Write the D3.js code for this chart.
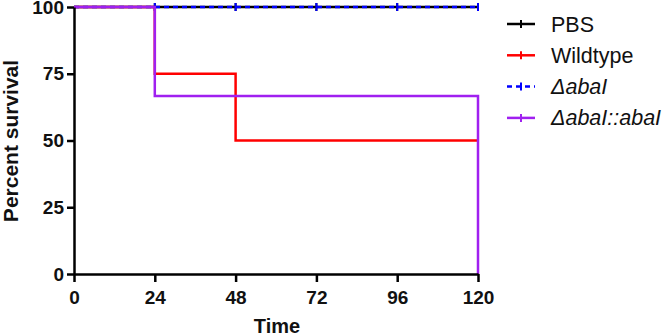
<!DOCTYPE html>
<html>
<head>
<meta charset="UTF-8">
<title>Percent survival</title>
<script src="https://cdn.jsdelivr.net/npm/d3@7"></script>
<style>
    body { margin: 0; background: #fff; }
    #chart { width: 669px; height: 335px; }
    text { font-family: "Liberation Sans", Arial, sans-serif; }
</style>
</head>
<body>
<div id="chart"></div>
<script>

// time points (h) and percent survival at each time (step curves)
var time = [0, 24, 48, 72, 96, 120];
var pbs = [100, 100, 100, 100, 100, 100];
var wildtype = [100, 75, 50, 50, 50, 50];
var dAbaI = [100, 100, 100, 100, 100, 100];
var dAbaIComp = [100, 66.67, 66.67, 66.67, 66.67, 0];

// censored marks
var pbsCensor = [24, 48, 72, 96, 120];
var dAbaICensor = [24, 48, 72, 96, 120];

var xTicks = [0, 24, 48, 72, 96, 120];
var yTicks = [0, 25, 50, 75, 100];

var seriesNames = ['PBS', 'Wildtype', '\u0394abaI', '\u0394abaI::abaI'];
var colors = ['#000000', '#ff0000', '#0000ff', '#a020f0'];

var margin = {top: 7, left: 74},
    width = 404,
    height = 267;

var svg = d3.select('#chart').append('svg')
    .attr('width', 669)
    .attr('height', 335);

var g = svg.append('g')
    .attr('transform', 'translate(' + margin.left + ',' + margin.top + ')');

var xScale = d3.scaleLinear().domain([0, 120]).range([0, width]);
var yScale = d3.scaleLinear().domain([0, 100]).range([height, 0]);

var line = d3.line()
    .x(function(d){ return xScale(d[0]); })
    .y(function(d){ return yScale(d[1]); })
    .curve(d3.curveStepAfter);

function pairs(vals) {
    return time.map(function(t, i){ return [t, vals[i]]; });
}

var series = [
    {vals: pbs, color: colors[0], dash: null, censor: pbsCensor},
    {vals: wildtype, color: colors[1], dash: null, censor: []},
    {vals: dAbaI, color: colors[2], dash: '5,4', censor: dAbaICensor},
    {vals: dAbaIComp, color: colors[3], dash: null, censor: []}
];

series.forEach(function(s){
    g.append('path')
        .datum(pairs(s.vals))
        .attr('fill', 'none')
        .attr('stroke', s.color)
        .attr('stroke-width', 2.5)
        .attr('stroke-dasharray', s.dash)
        .attr('d', line);

    g.selectAll(null)
        .data(s.censor)
        .enter()
        .append('line')
        .attr('x1', function(d){ return xScale(d); })
        .attr('x2', function(d){ return xScale(d); })
        .attr('y1', function(d){ return yScale(s.vals[time.indexOf(d)]) - 4; })
        .attr('y2', function(d){ return yScale(s.vals[time.indexOf(d)]) + 4; })
        .attr('stroke', s.color)
        .attr('stroke-width', 2);
});

var xAxis = d3.axisBottom(xScale)
    .tickValues(xTicks)
    .tickSize(8)
    .tickSizeOuter(0)
    .tickPadding(9);

var yAxis = d3.axisLeft(yScale)
    .tickValues(yTicks)
    .tickSize(7)
    .tickSizeOuter(0)
    .tickPadding(3);

var xg = g.append('g')
    .attr('transform', 'translate(0,' + height + ')')
    .call(xAxis);

var yg = g.append('g')
    .call(yAxis);

[xg, yg].forEach(function(a){
    a.select('.domain').attr('stroke-width', 2.5).attr('stroke', '#000');
    a.selectAll('.tick line').attr('stroke-width', 2.5).attr('stroke', '#000');
    a.selectAll('.tick text')
        .attr('fill', '#111')
        .style('font-family', '"Liberation Sans", Arial, sans-serif')
        .style('font-size', '19px')
        .style('font-weight', 'bold');
});

// axis titles
svg.append('text')
    .attr('x', 277)
    .attr('y', 333)
    .attr('text-anchor', 'middle')
    .style('font-size', '20px')
    .style('font-weight', 'bold')
    .attr('fill', '#111')
    .text('Time');

svg.append('text')
    .attr('transform', 'translate(18,141) rotate(-90)')
    .attr('text-anchor', 'middle')
    .style('font-size', '21px')
    .style('font-weight', 'bold')
    .attr('fill', '#111')
    .text('Percent survival');

// legend
var legend = svg.append('g').attr('transform', 'translate(507,24)');
var item = legend.selectAll('g')
    .data(seriesNames)
    .enter()
    .append('g')
    .attr('transform', function(d, i){ return 'translate(0,' + (i * 31.3) + ')'; });

item.append('line')
    .attr('x1', 0).attr('x2', 28)
    .attr('y1', 0).attr('y2', 0)
    .attr('stroke', function(d, i){ return colors[i]; })
    .attr('stroke-width', 2.5)
    .attr('stroke-dasharray', function(d, i){ return series[i].dash ? '5,4' : null; });

item.append('line')
    .attr('x1', 14).attr('x2', 14)
    .attr('y1', -4).attr('y2', 4)
    .attr('stroke', function(d, i){ return colors[i]; })
    .attr('stroke-width', 2);

item.append('text')
    .attr('x', 44)
    .attr('dy', '0.35em')
    .style('font-size', '21.5px')
    .style('font-style', function(d, i){ return i >= 2 ? 'italic' : 'normal'; })
    .attr('fill', '#111')
    .text(function(d){ return d; });
</script>
</body>
</html>
